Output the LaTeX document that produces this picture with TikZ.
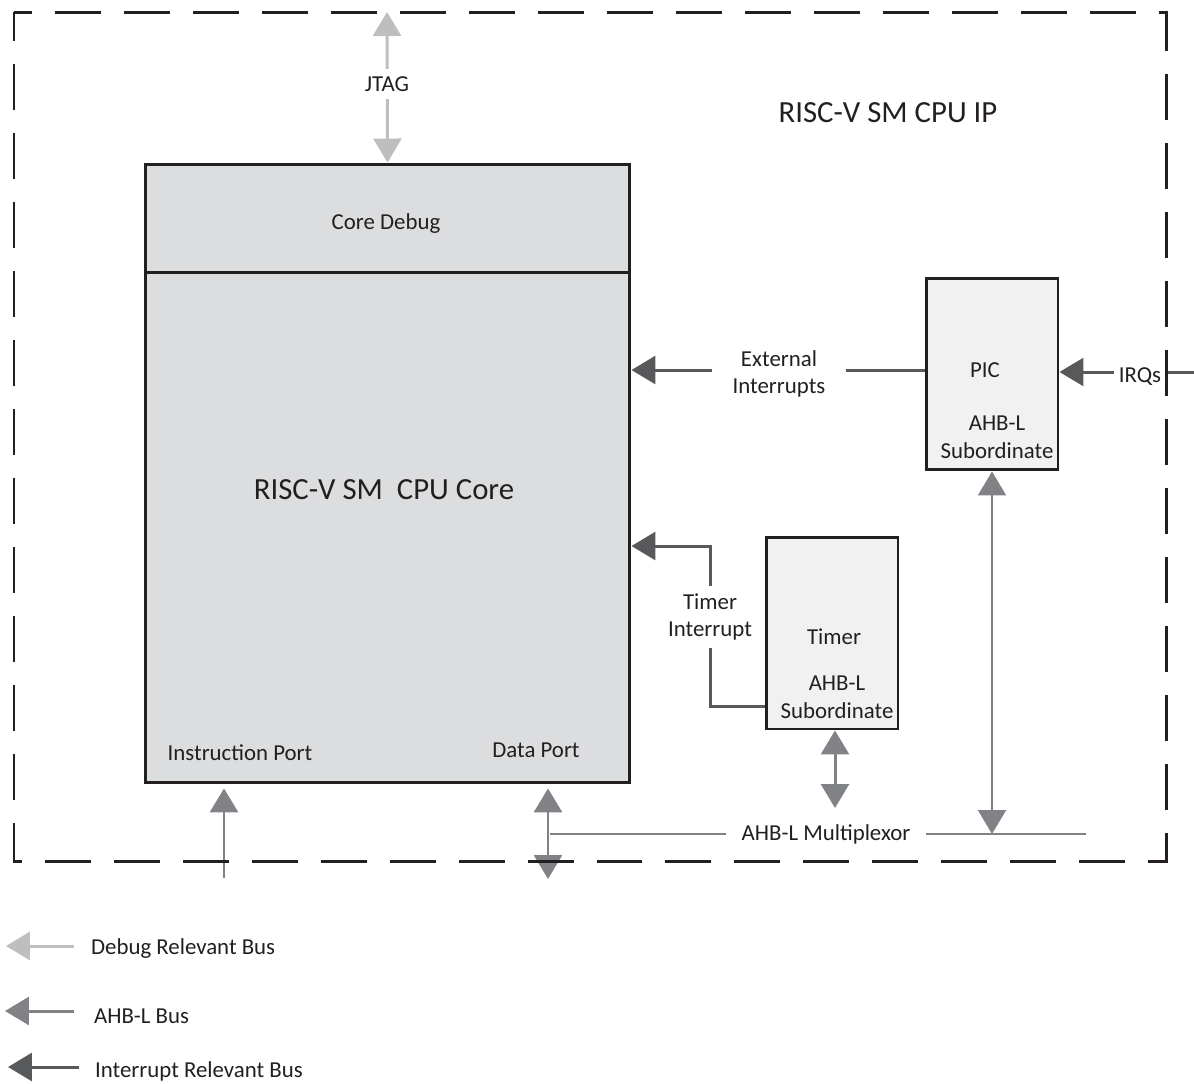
\documentclass[tikz,border=0pt]{standalone}
\usepackage{fontspec}
\setmainfont{Carlito}
\usepackage{xcolor}
\usepackage{tikz}
\usetikzlibrary{arrows.meta, positioning, calc}

\definecolor{inkblack}{HTML}{231F20}
\definecolor{corefill}{HTML}{DCDDDE}
\definecolor{subfill}{HTML}{F0F1F0}
\definecolor{dbggray}{HTML}{BCBEC0}
\definecolor{ahbgray}{HTML}{808285}
\definecolor{irqgray}{HTML}{58595B}

\begin{document}
\begin{tikzpicture}[
      x=0.02cm, y=-0.02cm,
      >={Triangle[width=0.56cm, length=0.48cm]},
      every node/.style={font=\fontsize{13}{15.8}\selectfont, text=inkblack, inner sep=1pt},
      bigtext/.style={font=\fontsize{17.5}{21}\selectfont},
      corebox/.style={draw=inkblack, line width=1.7pt, fill=corefill, minimum width=9.7cm},
      subbox/.style={draw=inkblack, line width=1.7pt, fill=subfill, minimum width=2.64cm, minimum height=3.84cm},
      gaplabel/.style={fill=white, align=center, inner sep=4pt},
      dbgbus/.style={draw=dbggray, line width=1.7pt},
      ahbbus/.style={draw=ahbgray, line width=1.7pt},
      irqbus/.style={draw=irqgray, line width=1.7pt},
      ipframe/.style={draw=inkblack, line width=1.7pt, dash pattern=on 0.92cm off 0.46cm, dash phase=0.56cm}
    ]
      \useasboundingbox (0,0) rectangle (1194,1083);

      \node[corebox, minimum height=2.16cm] (debug) at (387.5,218) {};
      \node (debuglbl) at (386,224) {Core Debug};
      \node[corebox, minimum height=10.22cm] (core) at (387.5,527.5) {};
      \node[bigtext] (corelbl) at (384,490) {RISC-V SM\ \ CPU Core};
      \node (iport) at (240,753) {Instruction Port};
      \node (dport) at (536,750) {Data Port};
      \node[bigtext] (iplbl) at (888,113) {RISC-V SM CPU IP};

      \node[subbox] (pic) at (992,374) {};
      \node (piclbl) at (985,370) {PIC};
      \node[align=center] (picahb) at (997,437) {AHB-L\\Subordinate};

      \node[subbox] (timer) at (832,633) {};
      \node (timerlbl) at (834,637) {Timer};
      \node[align=center] (timerahb) at (837,697) {AHB-L\\Subordinate};

      % debug bus
      \coordinate (jtagtop) at (387,12);
      \draw[dbgbus, <->] (jtagtop) -- (debug.north);
      \node[gaplabel] (jtag) at (387,84) {JTAG};

      % interrupt bus
      \coordinate (extout) at ([yshift=0.08cm]pic.west);
      \draw[irqbus, ->] (extout) -- (core.east |- extout);
      \node[gaplabel, inner xsep=12pt] (extint) at (779,374) {External\\Interrupts};

      \coordinate (irqin) at (1194,372);
      \draw[irqbus, ->] (irqin) -- (pic.east |- irqin);
      \node[gaplabel, inner xsep=3pt] (irqs) at (1140,377) {IRQs};

      \coordinate (tbend) at (710,546);
      \draw[irqbus, ->] ([yshift=0.48cm]timer.south west) -| (tbend) -- (core.east |- tbend);
      \node[gaplabel] (tint) at (710,617) {Timer\\Interrupt};

      % AHB-L bus
      \coordinate (muxl) at (550,834);
      \coordinate (muxr) at (1086,834);
      \draw[ahbbus, line width=1.2pt] (muxl) -- (muxr);
      \node[gaplabel, inner xsep=9pt] (mux) at (826,834) {AHB-L Multiplexor};

      \coordinate (tmux) at (835,808);
      \draw[ahbbus, <->] (tmux |- timer.south) -- (tmux);
      \draw[ahbbus, <->, line width=1.2pt] (pic.south) -- (pic.south |- muxr);

      \coordinate (dpbot) at (548,879);
      \draw[ahbbus, <->, shorten >=0.08cm] (dpbot) -- (dpbot |- core.south);
      \coordinate (ipbot) at (224,878);
      \draw[ahbbus, ->, shorten >=0.08cm] (ipbot) -- (ipbot |- core.south);

      \draw[ipframe] (14,12) -- (1166,12) -- (1166,861) -- (14,861) -- cycle;

      % legend
      \coordinate (legdbg) at (74,946);
      \draw[dbgbus, ->] (legdbg) -- ++(-68,0);
      \node[anchor=west] (legdbglbl) at (89,949) {Debug Relevant Bus};
      \coordinate (legahb) at (74,1011);
      \draw[ahbbus, ->] (legahb) -- ++(-69,0);
      \node[anchor=west] (legahblbl) at (92,1016) {AHB-L Bus};
      \coordinate (legirq) at (79,1067);
      \draw[irqbus, ->] (legirq) -- ++(-71,0);
      \node[anchor=west] (legirqlbl) at (93,1071) {Interrupt Relevant Bus};
    \end{tikzpicture}
\end{document}
